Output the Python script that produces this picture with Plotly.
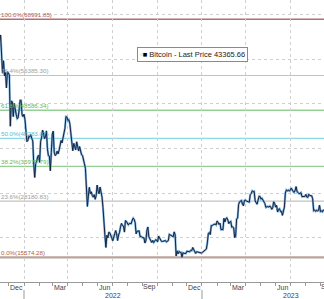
import plotly.graph_objects as go
import pandas as pd

start_date = "2021-11-10"
btc_2021 = [64950, 64150, 65470, 60100, 56900, 59700, 56300, 57150, 53570, 57250, 57000,
            56500, 45000, 50600, 50500, 47150, 50100, 48400, 47650, 46700, 46900, 48600,
            50800, 50800, 47550, 47150]
btc_2022 = [47700, 46450, 43500, 41550, 41850, 42750, 42600, 43100, 42250, 41700, 36450, 33500, 36650, 37150, 38150, 38500,
            36900, 41550, 42400, 44100, 43550, 42200, 42600, 43950, 40000, 38400, 38300, 35000, 39100, 43200,
            43900, 39150, 38400, 38700, 39400, 38800, 39650, 41150, 41800, 41250, 42350, 43950, 44550, 47150, 47050,
            46300, 46450, 45550, 43500, 42750, 39500, 41150, 40550, 39700, 41500, 40500, 39450, 40450, 39250, 38600,
            38450, 37700, 36550, 35500, 30300, 27000, 29300, 31300, 29850, 30300, 29450, 29100, 29650, 28600, 29450, 31800,
            30450, 29850, 31350, 30200, 29100, 26750, 22200, 20400, 17800, 20550, 19950, 21250, 21050, 20250, 19950,
            19300, 20200, 20550, 21600, 20850, 19350, 20600, 21200, 22500, 23200, 22700, 22600, 21250, 23850, 23650,
            23300, 22850, 23200, 23150, 23150, 23950, 24400, 24100, 23350, 20850, 21500, 21400, 21600, 20250, 20300, 20050,
            19950, 19950, 18800, 19300, 21650, 22400, 20200, 19700, 19400, 18900, 19400, 18900, 19200, 19550, 19450,
            19050, 20350, 19950, 19450, 19150, 19150, 19200, 19250, 19350, 19050, 19200, 19350, 20750, 20600, 20650,
            20500, 20200, 21300, 20600, 15900, 17050, 16350, 16900, 16700, 16700, 15600, 16600, 16500, 16450, 16450,
            16950, 16900, 16950, 16850, 17150, 17100, 17800, 17350, 16800, 16450, 16850, 16800, 16850, 16700, 16650, 16550]
btc_2023 = [16700, 16850, 16950, 17100, 17450, 18850, 20950, 21150, 20700, 22700, 22700, 22900, 23050, 23050, 22850,
            23750, 23450, 22950, 23250, 21800, 21850, 21800, 24350, 23500, 24300, 24450, 23950, 23150, 23500,
            23650, 22350, 22450, 22200, 20000, 20300, 24200, 24350, 27400, 28050, 28200, 28350, 27500, 27150, 28350, 28450,
            28200, 28200, 28050, 27950, 29650, 29900, 30500, 30300, 30400, 28250, 27800, 27500, 28400, 29300, 29250,
            28650, 28850, 28450, 27700, 27650, 26800, 26900, 27000, 26850, 27100, 26850, 26350, 26700, 28050, 27700,
            26850, 27250, 25750, 26350, 26500, 25850, 25900, 25000, 26500, 26850, 30000, 30700, 30500, 30700, 30450,
            30600, 31150, 30500, 30350, 30150, 30600, 31450, 30300, 30150, 29850, 29900, 30100, 29200, 29200, 29350, 29250,
            29700, 29100, 29050, 29750, 29450, 29400, 29400, 28700, 26050, 26200, 25900, 26150, 26000, 26100, 27300,
            25850, 25950, 25800, 26250, 25900]

fib_high = 68991.85
fib_low = 15574.28
fib_ratios = [1.0, 0.764, 0.618, 0.5, 0.382, 0.236, 0.0]
legend_text = "Bitcoin - Last Price 43365.66"

month_labels = ["Dec", "Mar", "Jun", "Sep", "Dec", "Mar", "Jun", "Sep"]
month_label_dates = ["2021-12-16", "2022-03-16", "2022-06-15", "2022-09-15",
                     "2022-12-16", "2023-03-16", "2023-06-15", "2023-09-15"]
year_labels = ["2022", "2023"]
year_label_dates = ["2022-07-02", "2023-07-02"]
year_starts = ["2022-01-01", "2023-01-01"]
quarter_starts = ["2022-01-01", "2022-04-01", "2022-07-01", "2022-10-01",
                  "2023-01-01", "2023-04-01", "2023-07-01"]

# ---------------- styling ----------------
fib_line_colors = ["#b07070", "#c2c2c2", "#94d094", "#8fd8e8", "#94d094", "#c2c2c2", "#b8a49c"]
fib_text_colors = ["#b45a5a", "#a0a0a0", "#5fb85f", "#4fbcd6", "#5fb85f", "#a0a0a0", "#b4604c"]
fib_widths = [1.5, 1.2, 1.3, 1.3, 1.3, 1.2, 2.4]

W, H = 324, 299
B = 17
plot_h = H - B
x_range = [pd.Timestamp("2021-11-12 19:00"), pd.Timestamp("2023-09-08 05:00")]
y_range = [10050, 73320]

values = btc_2021 + btc_2022 + btc_2023
dates = pd.date_range(start_date, periods=len(values), freq="2D")

fig = go.Figure()
fig.add_trace(go.Scatter(x=dates, y=values, mode="lines",
                         line=dict(color="#7fb2dc", width=2.2), hoverinfo="skip", showlegend=False))
fig.add_trace(go.Scatter(x=dates, y=values, mode="lines",
                         line=dict(color="#14233f", width=1), showlegend=False))

span = fib_high - fib_low
for r, lc, tc, lw in zip(fib_ratios, fib_line_colors, fib_text_colors, fib_widths):
    lvl = fib_low + r * span
    fig.add_shape(type="line", xref="paper", x0=0, x1=1, yref="y", y0=lvl, y1=lvl,
                  line=dict(color=lc, width=lw), layer="below")
    fig.add_annotation(xref="paper", x=0, xanchor="left", yref="y", y=lvl, yanchor="bottom",
                       text=f"{r*100:.1f}%({lvl:.2f})", showarrow=False,
                       font=dict(size=6.2, color=tc), xshift=-1, yshift=-1)

def xfrac(d):
    d = pd.Timestamp(d)
    return (d - x_range[0]) / (x_range[1] - x_range[0])

for lab, d in zip(month_labels, month_label_dates):
    fig.add_annotation(xref="paper", x=xfrac(d), yref="paper", y=-5 / plot_h, yanchor="middle",
                       xanchor="center", text=lab, showarrow=False,
                       font=dict(size=7, color="#444"))
for lab, d in zip(year_labels, year_label_dates):
    fig.add_annotation(xref="paper", x=xfrac(d), yref="paper", y=-13 / plot_h, yanchor="middle",
                       xanchor="center", text=lab, showarrow=False,
                       font=dict(size=7, color="#444"))
for d in year_starts:
    fig.add_shape(type="line", xref="x", x0=d, x1=d, yref="paper",
                  y0=-8 / plot_h, y1=-17 / plot_h, line=dict(color="#999", width=1))

fig.add_annotation(xref="paper", yref="paper", x=137 / W, y=1 - 47 / plot_h,
                   xanchor="left", yanchor="top", showarrow=False,
                   text="<span style='color:#b0b0b0'>▫</span><span style='color:#000'>■</span> " + legend_text,
                   bordercolor="#8a8a8a", borderwidth=1, borderpad=2, bgcolor="white",
                   font=dict(size=7.5, color="#222"))

fig.update_layout(
    width=W, height=H,
    margin=dict(l=0, r=0, t=0, b=B),
    paper_bgcolor="white", plot_bgcolor="white",
    font=dict(family="Liberation Sans", size=7, color="#444"),
    showlegend=False,
    xaxis=dict(type="date", range=x_range, tickmode="array", tickvals=quarter_starts,
               showticklabels=False, ticks="outside", ticklen=3, tickcolor="#999",
               showgrid=True, gridcolor="#cfcfcf", griddash="dot", gridwidth=1,
               showline=True, linecolor="#999", linewidth=1, zeroline=False,
               minor=dict(tickmode="linear", tick0="2021-12-01", dtick="M1", ticks="outside",
                          ticklen=3, tickcolor="#999", showgrid=False)),
    yaxis=dict(range=y_range, tickmode="array", tickvals=[20000, 30000, 40000, 50000, 60000, 70000],
               showticklabels=False, showgrid=True, gridcolor="#cfcfcf", griddash="dot",
               gridwidth=1, zeroline=False, showline=False),
)

fig.write_html("out.html")
